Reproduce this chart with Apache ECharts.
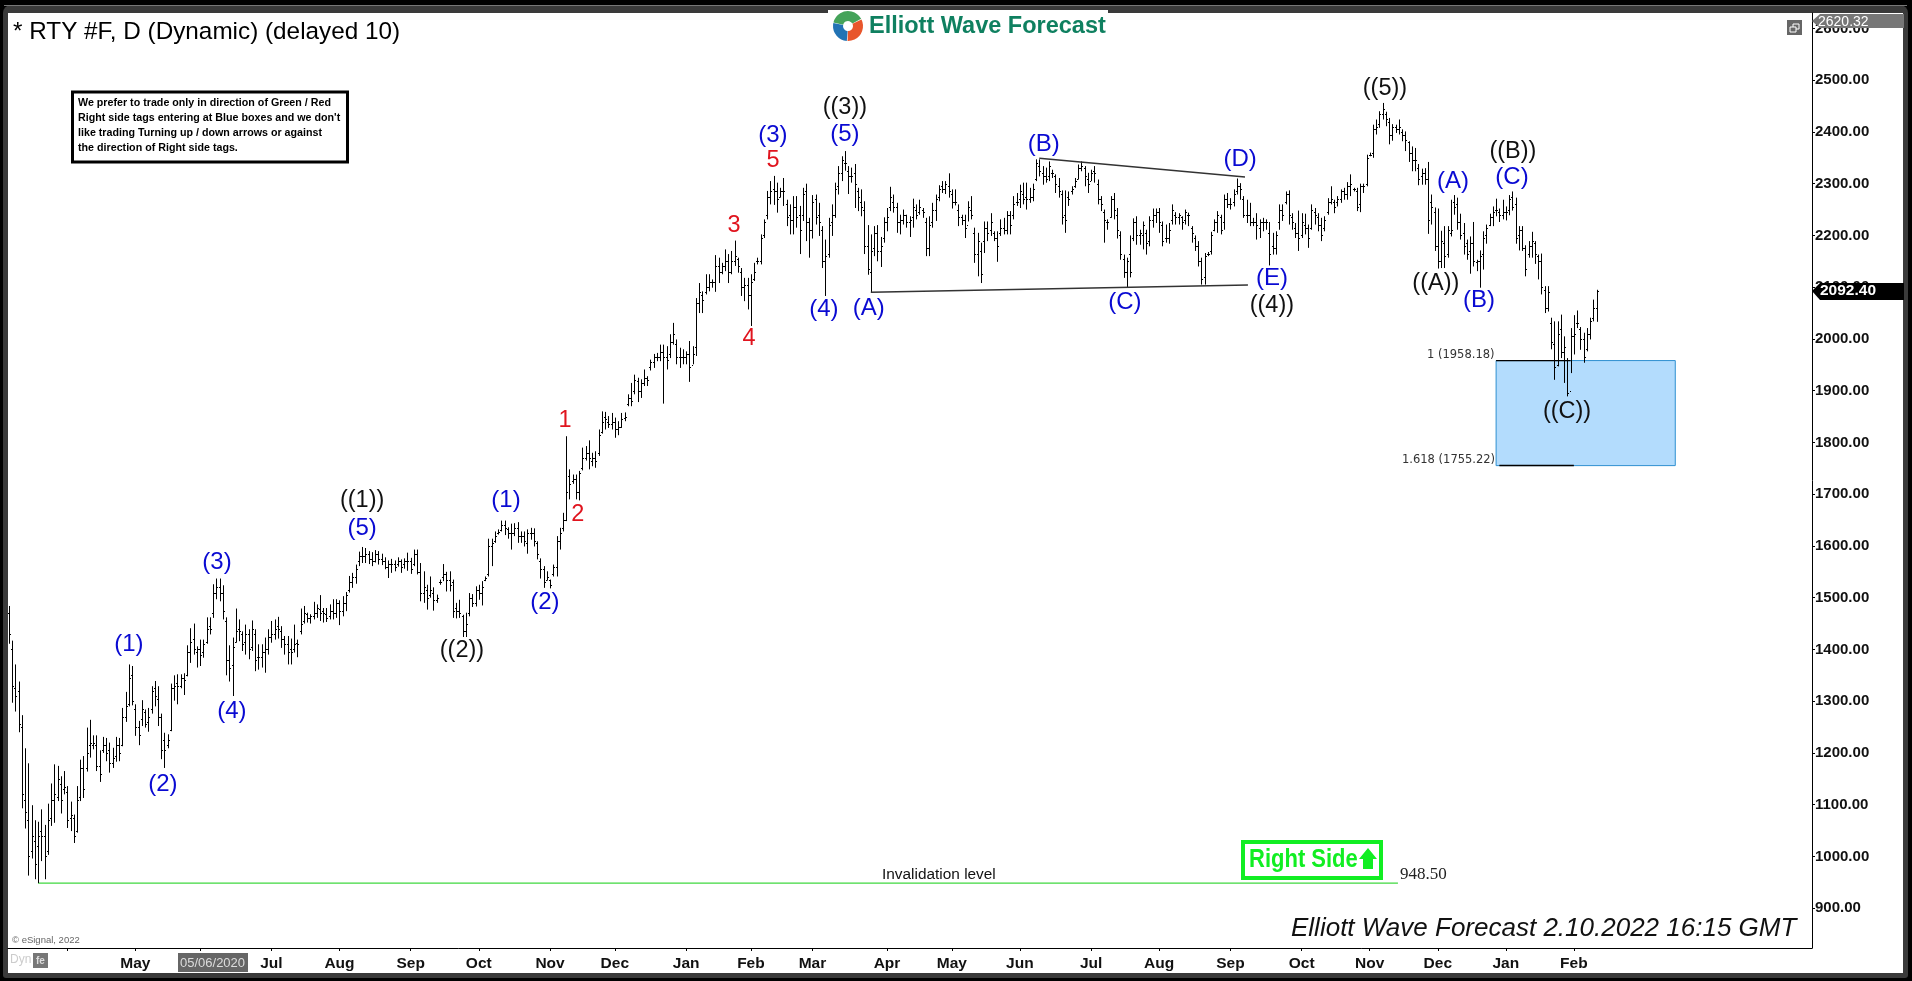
<!DOCTYPE html>
<html>

<head>
    <meta charset="utf-8" />
    <script src="https://cdn.jsdelivr.net/npm/echarts@6/dist/echarts.min.js"></script>
    <style>
        html, body { margin: 0; padding: 0; background: #000; overflow: hidden; }
        #main { width: 1912px; height: 981px; }
    </style>
</head>

<body>
    <div id="main"></div>
    <script type="text/javascript">
        // daily RTY bars
        const barHighs = [
            1484,1417,1371,1338,1273,1209,1180,1099,1070,1067,
            1091,1061,1102,1141,1178,1175,1155,1165,1136,1106,
            1081,1136,1187,1194,1249,1264,1234,1234,1205,1231,
            1229,1220,1210,1231,1229,1287,1318,1371,1368,1294,
            1262,1302,1284,1287,1329,1339,1329,1276,1239,1236,
            1334,1350,1352,1352,1354,1408,1441,1450,1406,1419,
            1419,1462,1462,1526,1537,1537,1524,1462,1408,1423,
            1479,1458,1435,1448,1439,1456,1439,1410,1410,1423,
            1439,1455,1458,1463,1445,1426,1426,1421,1448,1419,
            1479,1484,1471,1468,1492,1487,1505,1480,1480,1487,
            1497,1497,1495,1503,1511,1542,1548,1564,1589,1598,
            1596,1590,1588,1592,1590,1585,1578,1572,1575,1572,
            1578,1574,1576,1587,1577,1593,1593,1567,1551,1525,
            1541,1520,1506,1535,1565,1550,1551,1535,1490,1496,
            1467,1471,1509,1507,1522,1525,1532,1541,1614,1614,
            1628,1632,1649,1649,1636,1643,1644,1646,1628,1628,
            1632,1635,1634,1609,1576,1561,1551,1535,1564,1619,
            1635,1664,1812,1748,1738,1738,1745,1790,1793,1804,
            1780,1783,1825,1860,1859,1851,1857,1848,1841,1857,
            1858,1893,1915,1931,1925,1922,1941,1928,1960,1971,
            1973,1989,1989,1986,2009,2031,1999,1983,1980,1976,
            1996,1986,2079,2108,2092,2125,2125,2115,2162,2157,
            2147,2173,2164,2170,2190,2157,2137,2118,2118,2125,
            2147,2157,2202,2231,2286,2305,2315,2302,2292,2311,
            2269,2260,2276,2276,2257,2292,2300,2234,2278,2279,
            2263,2218,2192,2234,2260,2302,2334,2353,2363,2334,
            2331,2338,2292,2289,2266,2220,2202,2218,2220,2197,
            2235,2253,2294,2279,2263,2240,2250,2240,2237,2271,
            2260,2269,2253,2234,2237,2263,2279,2297,2305,2305,
            2320,2289,2289,2260,2240,2240,2266,2276,2215,2205,
            2186,2227,2227,2243,2208,2208,2231,2234,2247,2247,
            2276,2282,2298,2302,2302,2292,2300,2347,2347,2334,
            2331,2343,2327,2318,2311,2287,2287,2285,2295,2311,
            2337,2343,2334,2321,2327,2334,2308,2276,2250,2231,
            2276,2282,2253,2208,2163,2157,2200,2233,2237,2211,
            2227,2211,2237,2252,2252,2253,2227,2221,2224,2260,
            2245,2243,2237,2250,2244,2218,2200,2189,2157,2166,
            2168,2207,2231,2247,2240,2279,2282,2272,2289,2310,
            2301,2276,2269,2263,2234,2243,2231,2234,2231,2226,
            2205,2208,2260,2260,2285,2287,2243,2224,2248,2243,
            2242,2221,2260,2253,2243,2234,2237,2272,2295,2269,
            2276,2289,2292,2303,2318,2292,2292,2300,2300,2356,
            2360,2414,2424,2440,2456,2439,2427,2415,2414,2424,
            2405,2401,2382,2372,2369,2338,2329,2330,2342,2279,
            2254,2252,2209,2218,2218,2269,2278,2273,2242,2224,
            2192,2198,2226,2153,2171,2208,2221,2242,2256,2271,
            2252,2269,2256,2278,2285,2273,2218,2218,2181,2189,
            2207,2189,2163,2165,2102,2102,2041,2034,2034,2047,
            2005,1963,2021,2046,2055,2023,2012,2021,2041,2076,2095
        ];
        const barLows = [
            1411,1297,1280,1240,1093,1054,963,996,956,948.5,
            991,956,1003,1059,1065,1107,1083,1120,1055,1049,
            1026,1046,1107,1113,1164,1191,1207,1165,1144,1200,
            1184,1162,1171,1183,1184,1213,1260,1290,1292,1233,
            1215,1252,1249,1241,1276,1290,1252,1188,1171,1209,
            1242,1301,1294,1325,1312,1348,1374,1390,1365,1368,
            1384,1411,1429,1461,1497,1493,1458,1350,1338,1310,
            1413,1416,1397,1390,1381,1397,1358,1361,1365,1355,
            1390,1413,1419,1421,1403,1390,1371,1371,1394,1385,
            1429,1450,1452,1450,1458,1461,1455,1452,1453,1458,
            1458,1461,1447,1464,1474,1510,1519,1527,1561,1567,
            1567,1565,1561,1568,1564,1563,1555,1538,1548,1551,
            1560,1548,1556,1552,1546,1561,1545,1493,1490,1477,
            1500,1475,1490,1525,1532,1512,1512,1461,1460,1461,
            1424,1424,1464,1482,1483,1496,1485,1532,1541,1561,
            1606,1622,1628,1621,1614,1593,1619,1606,1606,1599,
            1585,1612,1599,1574,1537,1519,1533,1518,1541,1541,
            1593,1628,1648,1690,1720,1690,1688,1746,1765,1748,
            1754,1751,1774,1817,1825,1828,1825,1809,1814,1828,
            1841,1870,1870,1893,1878,1886,1909,1909,1939,1944,
            1957,1957,1875,1941,1963,1989,1951,1944,1951,1951,
            1917,1951,1967,2050,2050,2086,2092,2099,2091,2108,
            2125,2131,2108,2125,2141,2128,2083,2073,2057,2025,
            2112,2144,2144,2195,2231,2260,2259,2244,2273,2257,
            2218,2202,2202,2215,2164,2228,2189,2157,2194,2221,
            2199,2137,2083,2157,2199,2234,2279,2305,2325,2280,
            2302,2253,2247,2237,2164,2124,2089,2160,2150,2139,
            2186,2208,2247,2244,2205,2202,2221,2215,2197,2215,
            2231,2240,2234,2160,2160,2215,2228,2266,2282,2280,
            2273,2252,2258,2218,2220,2195,2227,2231,2147,2121,
            2108,2166,2189,2199,2189,2149,2199,2202,2202,2202,
            2231,2257,2253,2260,2250,2263,2266,2305,2314,2298,
            2302,2305,2311,2282,2273,2221,2205,2257,2279,2292,
            2308,2324,2295,2282,2305,2302,2260,2247,2186,2211,
            2234,2231,2194,2153,2118,2099,2119,2189,2182,2182,
            2173,2163,2179,2215,2224,2205,2179,2186,2184,2221,
            2221,2221,2211,2221,2218,2186,2170,2140,2105,2105,
            2160,2163,2208,2205,2202,2211,2253,2250,2256,2279,
            2269,2234,2224,2218,2218,2192,2195,2208,2211,2142,
            2163,2163,2211,2228,2260,2221,2211,2195,2170,2195,
            2202,2176,2211,2221,2208,2189,2208,2240,2260,2243,
            2256,2263,2269,2269,2276,2285,2247,2245,2282,2295,
            2353,2350,2395,2408,2424,2411,2376,2383,2398,2395,
            2382,2363,2342,2324,2324,2297,2298,2298,2203,2221,
            2170,2136,2137,2137,2157,2198,2240,2211,2192,2163,
            2153,2126,2140,2131,2099,2134,2184,2218,2218,2237,
            2226,2231,2229,2239,2248,2184,2171,2170,2121,2157,
            2157,2145,2115,2086,2050,2053,1980,1921,1947,1963,
            1915,1889,1934,1970,2021,1979,1954,1976,1999,2034,2033
        ];
        const barOpens = [
            1470,1400,1325,1320,1250,1110,1070,1010,1030,1020,
            1050,1040,1010,1075,1110,1115,1140,1130,1125,1075,
            1075,1050,1115,1170,1170,1215,1215,1215,1175,1205,
            1215,1205,1180,1195,1215,1215,1270,1295,1350,1285,
            1250,1265,1280,1260,1285,1325,1305,1270,1225,1215,
            1245,1325,1335,1330,1345,1350,1395,1420,1395,1400,
            1395,1415,1445,1470,1510,1520,1510,1455,1380,1370,
            1415,1440,1430,1415,1430,1405,1430,1385,1385,1395,
            1400,1425,1430,1445,1435,1420,1410,1400,1400,1412,
            1435,1455,1468,1460,1465,1470,1478,1475,1468,1465,
            1475,1470,1490,1475,1490,1515,1530,1540,1570,1580,
            1580,1585,1575,1570,1585,1575,1570,1560,1565,1565,
            1565,1570,1565,1570,1570,1565,1585,1550,1510,1515,
            1505,1510,1495,1530,1540,1545,1535,1530,1480,1475,
            1465,1435,1470,1500,1490,1515,1510,1535,1545,1600,
            1610,1625,1630,1640,1632,1625,1625,1635,1620,1620,
            1605,1625,1625,1605,1570,1555,1535,1535,1545,1560,
            1610,1635,1650,1735,1725,1730,1705,1750,1770,1780,
            1765,1770,1780,1820,1850,1840,1835,1840,1825,1830,
            1848,1875,1885,1900,1918,1900,1915,1925,1945,1955,
            1965,1965,1975,1965,1970,1995,1990,1965,1965,1965,
            1970,1950,1985,2070,2085,2090,2100,2110,2110,2140,
            2130,2140,2150,2130,2150,2155,2130,2100,2105,2085,
            2115,2150,2150,2200,2240,2275,2290,2285,2275,2285,
            2260,2240,2230,2255,2240,2240,2285,2225,2210,2270,
            2240,2210,2150,2165,2225,2240,2295,2320,2340,2325,
            2315,2320,2285,2265,2250,2180,2130,2175,2205,2170,
            2195,2225,2255,2265,2255,2225,2230,2240,2225,2235,
            2250,2245,2250,2225,2175,2225,2250,2275,2295,2290,
            2295,2280,2265,2250,2235,2230,2220,2250,2205,2165,
            2170,2190,2215,2210,2205,2195,2205,2215,2210,2240,
            2240,2265,2270,2280,2275,2270,2275,2310,2335,2320,
            2315,2315,2320,2315,2295,2280,2240,2275,2285,2295,
            2310,2330,2330,2310,2305,2325,2300,2270,2245,2225,
            2235,2270,2240,2200,2155,2130,2165,2195,2225,2200,
            2200,2205,2190,2230,2240,2245,2220,2195,2195,2230,
            2240,2235,2235,2230,2240,2215,2195,2180,2150,2120,
            2165,2170,2210,2225,2235,2225,2270,2260,2265,2285,
            2295,2270,2240,2240,2225,2225,2215,2225,2225,2205,
            2180,2175,2225,2250,2265,2280,2235,2215,2205,2200,
            2220,2215,2215,2245,2235,2220,2215,2245,2265,2265,
            2265,2270,2285,2280,2295,2290,2285,2260,2295,2300,
            2355,2360,2405,2415,2435,2435,2420,2395,2410,2405,
            2400,2395,2380,2360,2345,2330,2315,2320,2310,2265,
            2245,2180,2150,2185,2165,2205,2265,2260,2225,2205,
            2185,2170,2185,2148,2150,2165,2200,2220,2235,2250,
            2245,2240,2245,2250,2275,2260,2200,2210,2175,2165,
            2180,2185,2160,2150,2095,2060,2030,1990,1950,2020,
            1975,1960,1900,2005,2030,2020,2000,1980,2010,2040,2060
        ];
        const barCloses = [
            1430,1330,1310,1255,1120,1085,1000,1040,985,1040,
            1040,1000,1070,1110,1120,1150,1110,1135,1070,1080,
            1040,1110,1170,1130,1200,1220,1220,1175,1160,1215,
            1200,1180,1190,1215,1200,1270,1290,1345,1300,1250,
            1235,1285,1255,1270,1320,1310,1270,1205,1205,1225,
            1325,1330,1330,1345,1340,1395,1415,1400,1400,1390,
            1410,1440,1440,1510,1520,1510,1475,1380,1365,1405,
            1435,1435,1410,1430,1400,1440,1380,1385,1395,1400,
            1425,1430,1440,1440,1420,1410,1395,1395,1410,1410,
            1450,1470,1460,1465,1470,1480,1470,1470,1460,1475,
            1470,1490,1475,1490,1505,1530,1540,1555,1580,1580,
            1585,1575,1570,1585,1575,1570,1560,1565,1565,1560,
            1570,1560,1570,1570,1555,1585,1550,1510,1520,1500,
            1515,1495,1500,1530,1545,1535,1525,1475,1475,1470,
            1435,1450,1500,1490,1515,1510,1520,1538,1600,1605,
            1620,1627,1640,1635,1625,1625,1635,1620,1620,1610,
            1625,1625,1610,1585,1555,1530,1540,1525,1560,1610,
            1625,1650,1705,1720,1730,1705,1740,1770,1780,1770,
            1770,1765,1815,1840,1845,1835,1840,1825,1830,1845,
            1850,1885,1880,1920,1900,1915,1925,1920,1955,1965,
            1965,1975,1965,1960,1995,2010,1965,1965,1965,1970,
            1945,1970,2070,2090,2075,2100,2110,2110,2140,2130,
            2140,2150,2130,2150,2160,2140,2100,2105,2085,2110,
            2130,2150,2195,2225,2275,2285,2285,2270,2285,2285,
            2235,2230,2255,2235,2210,2280,2225,2210,2265,2235,
            2225,2150,2160,2220,2240,2290,2320,2345,2340,2315,
            2315,2300,2275,2255,2180,2135,2170,2205,2170,2180,
            2225,2235,2275,2255,2225,2230,2240,2225,2230,2255,
            2240,2255,2245,2175,2220,2250,2270,2290,2290,2300,
            2285,2265,2265,2235,2230,2215,2255,2240,2165,2190,
            2125,2215,2205,2225,2195,2180,2215,2210,2240,2220,
            2260,2265,2285,2270,2270,2275,2290,2340,2325,2315,
            2310,2335,2320,2300,2285,2235,2230,2270,2290,2305,
            2330,2335,2315,2300,2320,2320,2270,2260,2230,2225,
            2270,2250,2210,2165,2130,2150,2130,2225,2200,2205,
            2220,2185,2230,2240,2245,2225,2190,2195,2210,2250,
            2235,2240,2225,2245,2240,2205,2180,2150,2115,2160,
            2165,2200,2225,2240,2210,2270,2260,2260,2280,2295,
            2290,2240,2240,2225,2225,2220,2225,2225,2225,2165,
            2175,2200,2250,2240,2280,2240,2225,2205,2195,2225,
            2215,2195,2250,2240,2220,2200,2230,2265,2270,2255,
            2270,2285,2280,2295,2300,2290,2255,2295,2295,2350,
            2355,2405,2410,2435,2445,2425,2395,2410,2405,2410,
            2395,2385,2360,2345,2345,2310,2320,2310,2230,2255,
            2180,2150,2190,2160,2210,2210,2255,2225,2200,2180,
            2165,2185,2150,2150,2160,2195,2215,2235,2245,2250,
            2240,2245,2245,2270,2255,2195,2210,2175,2135,2180,
            2190,2165,2150,2100,2060,2090,1995,1945,2010,1975,
            1985,1895,2005,2010,2030,2000,1965,2010,2035,2060,2092.4
        ];

        const priceTicks = [900,1000,1100,1200,1300,1400,1500,1600,1700,1800,1900,2000,2100,2200,2300,2400,2500,2600];
        const monthTicks = [18,39,59,81,102,124,145,167,187,209,229,248,271,291,312,334,355,377,399,420,441,462,483];
        const monthLabels = ['','May','','Jul','Aug','Sep','Oct','Nov','Dec','Jan','Feb','Mar','Apr','May','Jun','Jul','Aug','Sep','Oct','Nov','Dec','Jan','Feb'];

        // wave counts: [text, bar index, price at the text centre]
        const blueWaves = [
            ['(1)',37,1410],['(2)',47.5,1140],['(3)',64.2,1569],['(4)',68.8,1281],['(5)',109,1634],
            ['(1)',153.4,1689],['(2)',165.4,1490],['(3)',235.8,2394],['(5)',258,2396],['(4)',251.5,2058],
            ['(A)',265.4,2060],['(B)',319.4,2376],['(C)',344.4,2071],['(D)',380,2347],['(E)',389.8,2117],
            ['(A)',445.7,2305],['(B)',453.7,2075],['(C)',463.9,2313]
        ];
        const blackWaves = [
            ['((1))',109,1687],['((2))',139.8,1397],['((3))',258,2448],['((4))',389.8,2065],
            ['((5))',424.7,2483],['((A))',440.4,2108],['((B))',464.2,2363],['((C))',480.9,1859]
        ];
        const redWaves = [
            ['1',171.6,1843],['2',175.6,1660],['3',223.8,2220],['4',228.4,2000],['5',235.8,2345]
        ];

        const triangleUpper = [[318,2349],[381.5,2313]];
        const triangleLower = [[266,2090],[382.4,2104]];
        const invalidation = [[9,948.5],[428.7,948.5]];
        const fibTop = [[459,1958.18],[482,1958.18]];
        const fibBottom = [[460,1755.22],[483,1755.22]];
        const blueBox = [459,514.3,1958.18,1755.22];

        const plainFont = '"Liberation Sans", Arial, sans-serif';

        function renderBar(params, api) {
            const i = api.value(0);
            const x = Math.round(api.coord([i, 0])[0]) + 0.5;
            const yHigh = api.coord([i, api.value(4)])[1];
            const yLow = api.coord([i, api.value(3)])[1];
            const yOpen = Math.round(api.coord([i, api.value(1)])[1]) + 0.5;
            const yClose = Math.round(api.coord([i, api.value(2)])[1]) + 0.5;
            const style = { stroke: '#000', lineWidth: 1 };
            return {
                type: 'group',
                children: [
                    { type: 'line', shape: { x1: x, y1: yHigh, x2: x, y2: yLow }, style: style },
                    { type: 'line', shape: { x1: x - 1.5, y1: yOpen, x2: x - 0.5, y2: yOpen }, style: style },
                    { type: 'line', shape: { x1: x + 0.5, y1: yClose, x2: x + 1.5, y2: yClose }, style: style }
                ]
            };
        }

        function waveSeries(list, color, font) {
            return {
                type: 'custom',
                z: 6,
                clip: false,
                silent: true,
                data: list.map(w => [w[1], w[2], w[0]]),
                renderItem: function(params, api) {
                    const p = api.coord([api.value(0), api.value(1)]);
                    return {
                        type: 'text',
                        style: {
                            x: p[0], y: p[1], text: list[params.dataIndex][0],
                            font: font, fill: color, align: 'center', verticalAlign: 'middle'
                        }
                    };
                }
            };
        }

        function lineSeries(points, color, width, z) {
            return {
                type: 'line',
                data: points,
                showSymbol: false,
                silent: true,
                z: z,
                lineStyle: { color: color, width: width }
            };
        }

        function text(x, y, str, font, fill, extra) {
            return Object.assign({
                type: 'text', z: 50, silent: true,
                style: { x: x, y: y, text: str, font: font, fill: fill, verticalAlign: 'middle' }
            }, extra || {});
        }

        function rect(x, y, w, h, fill, extra) {
            return Object.assign({
                type: 'rect', z: 49, silent: true,
                shape: { x: x, y: y, width: w, height: h }, style: { fill: fill }
            }, extra || {});
        }

        function noteLine(y, str) {
            return text(78, y, str, 'bold 11.5px ' + plainFont, '#000', { scaleX: 0.93, originX: 78, originY: y });
        }

        const frame = [
            rect(3, 5, 1905, 973, '#3a3a3a', { z: -100, shape: { x: 3, y: 5, width: 1905, height: 973, r: [8, 8, 3, 3] } }),
            rect(4, 5, 1903, 1, '#777', { z: -99 }),
            rect(8, 13, 1895, 960, '#fff', { z: -98 }),
            // logo
            rect(828, 10, 280, 6, '#fff', { z: -97 }),
            { type: 'sector', z: 49, silent: true, shape: { cx: 848, cy: 26, r: 15, r0: 5, startAngle: -2.9, endAngle: -0.5 }, style: { fill: '#45a35a' } },
            { type: 'sector', z: 49, silent: true, shape: { cx: 848, cy: 26, r: 15, r0: 5, startAngle: -0.45, endAngle: 1.6 }, style: { fill: '#e8562c' } },
            { type: 'sector', z: 49, silent: true, shape: { cx: 848, cy: 26, r: 15, r0: 5, startAngle: 1.65, endAngle: 3.35 }, style: { fill: '#2273b4' } },
            text(869, 27, 'Elliott Wave Forecast', 'bold 23.5px ' + plainFont, '#0f8060'),
            // heading
            text(13, 32, '* RTY #F, D (Dynamic) (delayed 10)', '24.3px ' + plainFont, '#000'),
            // note box
            rect(72.5, 92, 275, 70, '#fff', { style: { fill: '#fff', stroke: '#000', lineWidth: 3 } }),
            noteLine(103, 'We prefer to trade only in direction of Green / Red'),
            noteLine(118, "Right side tags entering at Blue boxes and we don't"),
            noteLine(133, 'like trading Turning up / down arrows or against'),
            noteLine(148, 'the direction of Right side tags.'),
            // window button
            rect(1787, 20, 15, 15, '#666'),
            rect(1793, 24, 6, 5, '#666', { z: 50, style: { fill: '#666', stroke: '#fff', lineWidth: 1 } }),
            rect(1790, 27, 6, 5, '#666', { z: 50, style: { fill: '#666', stroke: '#fff', lineWidth: 1 } }),
            // price tags
            { type: 'polygon', z: 49, silent: true, shape: { points: [[1812, 21], [1820, 14], [1904, 14], [1904, 28], [1820, 28]] }, style: { fill: '#777' } },
            text(1818, 22, '2620.32', '14px ' + plainFont, '#fff'),
            { type: 'polygon', z: 49, silent: true, shape: { points: [[1812, 291], [1820, 283], [1904, 283], [1904, 300], [1820, 300]] }, style: { fill: '#000' } },
            text(1820, 291, '2092.40', 'bold 15.5px ' + plainFont, '#fff'),
            // date tag and bottom left corner
            rect(178, 953, 70, 19, '#666'),
            text(180, 963, '05/06/2020', '13px ' + plainFont, '#ddd'),
            text(10, 960, 'Dyn', '12px ' + plainFont, '#ccc'),
            rect(33, 953, 15, 15, '#777'),
            text(36, 961, 'fe', 'bold 10px ' + plainFont, '#ddd'),
            text(12, 940, '\u00a9 eSignal, 2022', '9.5px ' + plainFont, '#666'),
            // right side tag
            rect(1243, 842, 138, 36, '#fff', { style: { fill: '#fff', stroke: '#11ee22', lineWidth: 4 } }),
            text(1249, 860, 'Right Side', 'bold 25px ' + plainFont, '#11ee22', { scaleX: 0.88, originX: 1249, originY: 860 }),
            { type: 'polygon', z: 50, silent: true, shape: { points: [[1368, 848], [1377, 859], [1373, 859], [1373, 869], [1363, 869], [1363, 859], [1359, 859]] }, style: { fill: '#11ee22' } },
            // free text
            text(882, 875, 'Invalidation level', '15.4px ' + plainFont, '#111'),
            text(1400, 875, '948.50', '17px "Liberation Serif", serif', '#222'),
            text(1427, 355, '1 (1958.18)', '11.5px "DejaVu Sans", sans-serif', '#333'),
            text(1402, 460, '1.618 (1755.22)', '11.5px "DejaVu Sans", sans-serif', '#333'),
            text(1291, 929, 'Elliott Wave Forecast 2.10.2022 16:15 GMT', 'italic 26px ' + plainFont, '#111')
        ];

        const myChart = echarts.init(document.getElementById('main'), null, { renderer: 'canvas' });
        myChart.setOption({
            animation: false,
            backgroundColor: '#000',
            tooltip: { show: false },
            grid: { left: 8, right: 100, top: 13, bottom: 33 },
            xAxis: {
                type: 'value',
                min: -0.3,
                max: 556.5,
                splitLine: { show: false },
                axisLine: { onZero: false, lineStyle: { color: '#000', width: 1 } },
                axisTick: { length: 3, lineStyle: { color: '#000' }, customValues: monthTicks },
                axisLabel: {
                    customValues: monthTicks,
                    color: '#111',
                    fontFamily: 'Liberation Sans',
                    fontWeight: 'bold',
                    fontSize: 15.5,
                    margin: 8,
                    formatter: v => monthLabels[monthTicks.indexOf(v)]
                }
            },
            yAxis: {
                type: 'value',
                position: 'right',
                min: 823.1,
                max: 2629.8,
                splitLine: { show: false },
                axisLine: { show: true, onZero: false, lineStyle: { color: '#000', width: 1 } },
                axisTick: { show: true, length: 3, lineStyle: { color: '#000' }, customValues: priceTicks },
                axisLabel: {
                    customValues: priceTicks,
                    color: '#111',
                    fontFamily: 'Liberation Sans',
                    fontWeight: 'bold',
                    fontSize: 15,
                    margin: 3,
                    formatter: v => v.toFixed(2)
                }
            },
            graphic: frame,
            series: [
                {
                    type: 'custom',
                    z: 1,
                    silent: true,
                    data: [blueBox],
                    renderItem: function(params, api) {
                        const a = api.coord([api.value(0), api.value(2)]);
                        const b = api.coord([api.value(1), api.value(3)]);
                        return {
                            type: 'rect',
                            shape: { x: a[0], y: a[1], width: b[0] - a[0], height: b[1] - a[1] },
                            style: { fill: '#b3dcfd', stroke: '#2e8fd0', lineWidth: 1 }
                        };
                    }
                },
                lineSeries(fibTop, '#000', 1.2, 2),
                lineSeries(fibBottom, '#000', 1.5, 2),
                lineSeries(invalidation, '#3fd83f', 1.4, 2),
                lineSeries(triangleUpper, '#333', 1.5, 4),
                lineSeries(triangleLower, '#333', 1.5, 4),
                {
                    type: 'custom',
                    z: 3,
                    silent: true,
                    data: barHighs.map((h, i) => [i, barOpens[i], barCloses[i], barLows[i], h]),
                    encode: { x: 0, y: [1, 2, 3, 4] },
                    renderItem: renderBar
                },
                waveSeries(blueWaves, '#0a0ad2', '24px ' + plainFont),
                waveSeries(blackWaves, '#111', '23.5px ' + plainFont),
                waveSeries(redWaves, '#e0141e', '23.5px ' + plainFont)
            ]
        });
    </script>
</body>

</html>
